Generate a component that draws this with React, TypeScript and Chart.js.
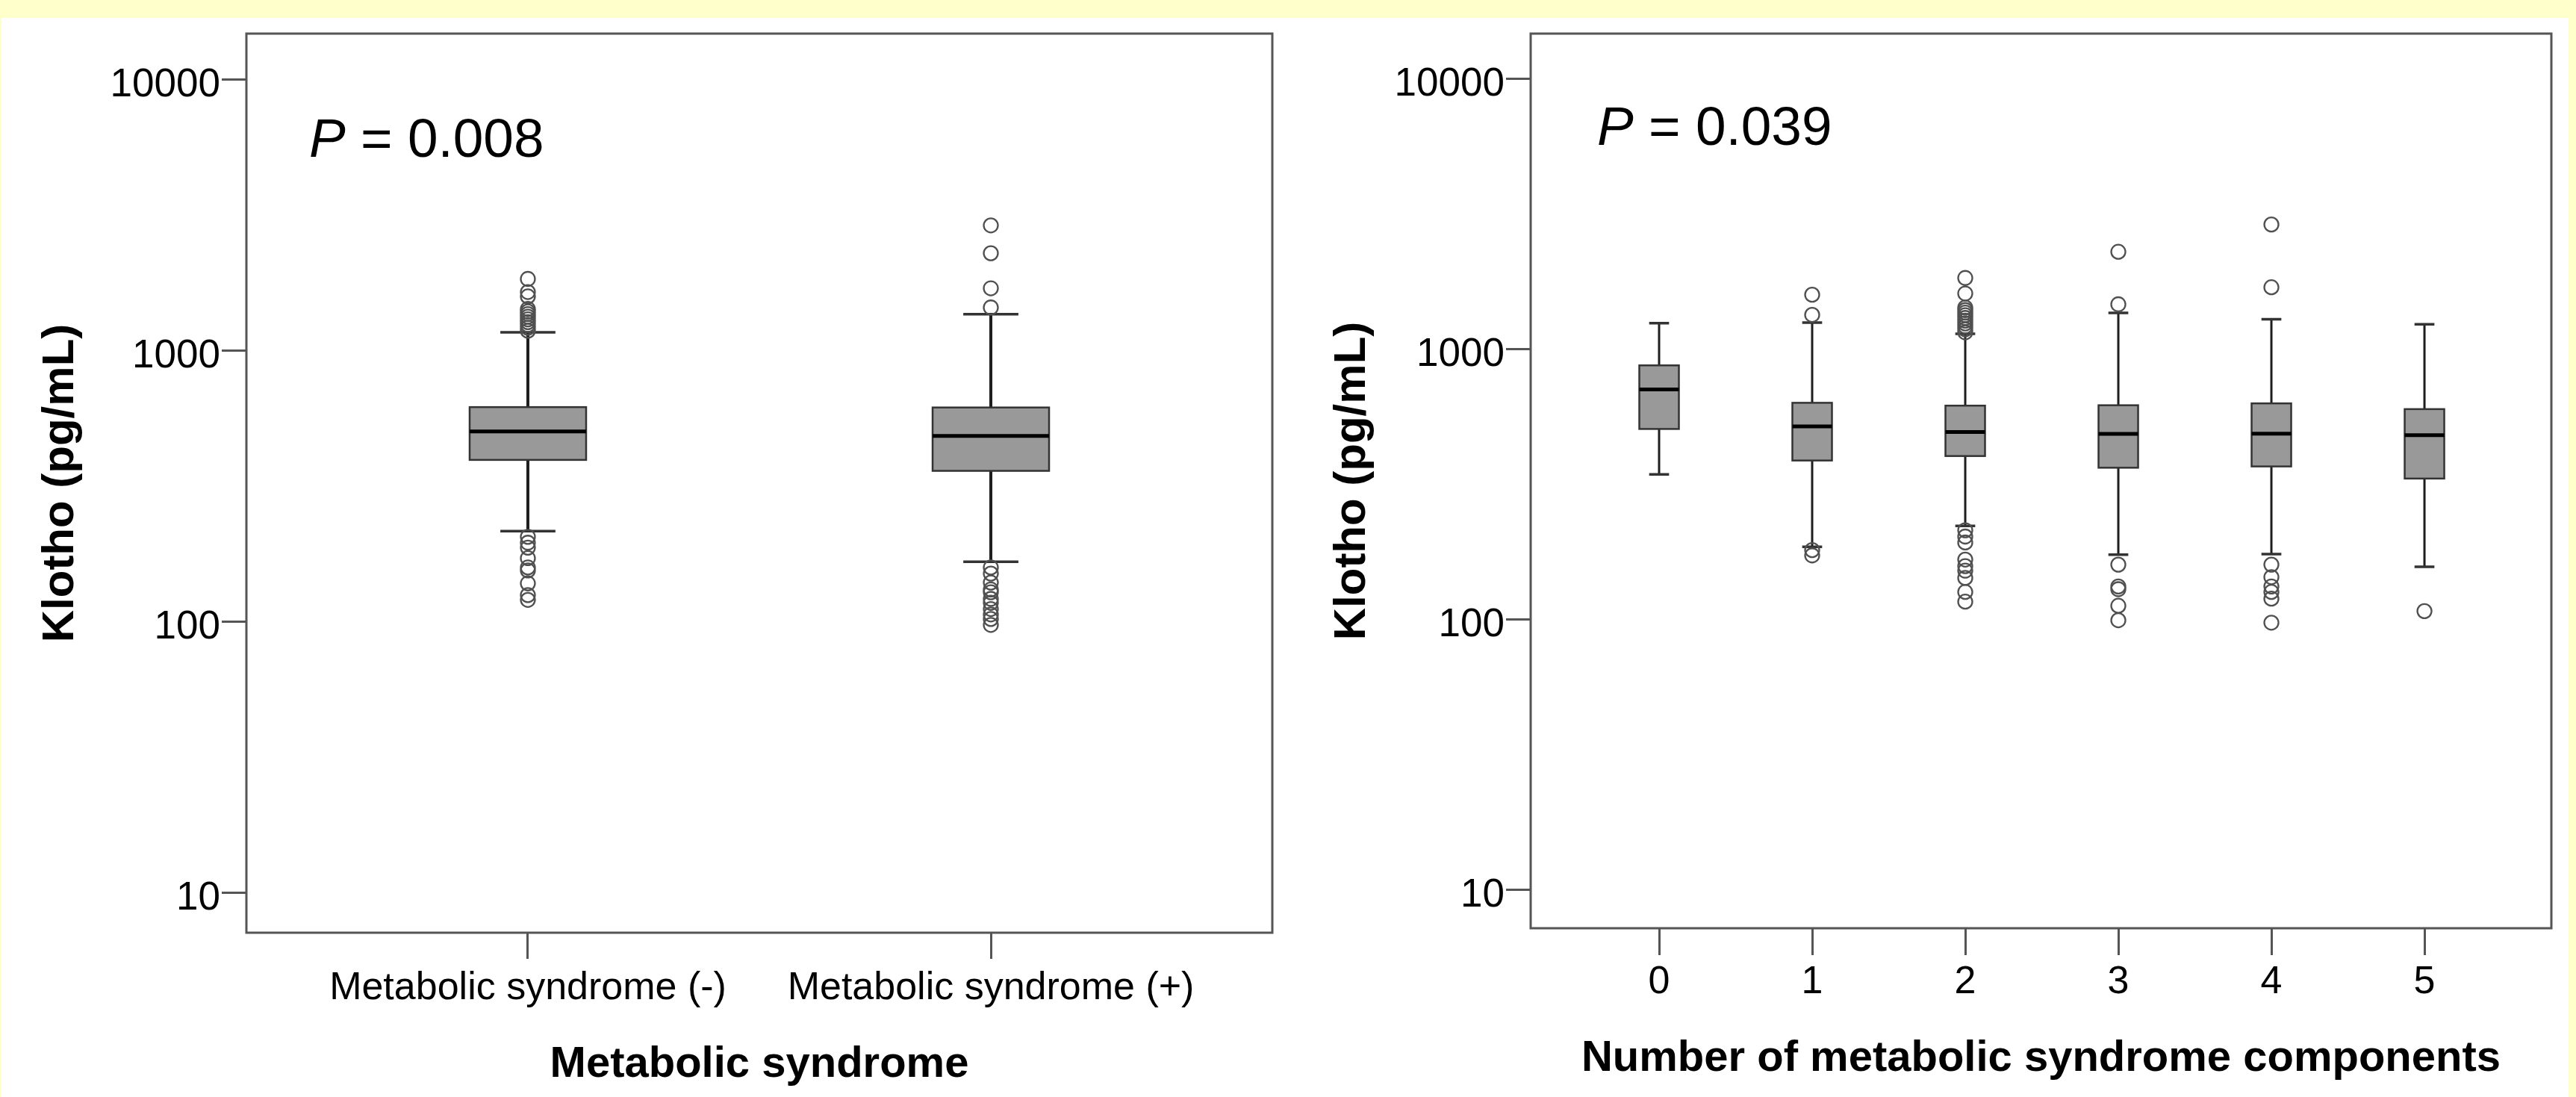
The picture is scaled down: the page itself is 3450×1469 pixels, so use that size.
import React, { useEffect, useRef } from "react";
import { Chart, registerables } from "chart.js";

Chart.register(...registerables);

const FONT = "'Liberation Sans', Arial, Helvetica, sans-serif";

// ---------- data ----------
const yTickValues = [10, 100, 1000, 10000];

// Left panel: Metabolic syndrome
const msCategories = ["Metabolic syndrome (-)", "Metabolic syndrome (+)"];
const msLow = [215, 166];
const msQ1 = [394, 359];
const msMedian = [502, 483];
const msQ3 = [617, 615];
const msHigh = [1165, 1358];
const msOutliersNeg = [1833, 1640, 1580, 1420, 1390, 1360, 1330, 1300, 1270, 1240, 1210, 1180, 205, 195, 187, 171, 158, 154, 138, 125, 120];
const msOutliersPos = [2888, 2280, 1693, 1438, 158, 150, 139, 131, 128, 121, 117, 111, 106, 102, 97];
const msPValue = "0.008";

// Right panel: Number of metabolic syndrome components
const compCategories = ["0", "1", "2", "3", "4", "5"];
const compLow = [343, 185, 221, 173, 174, 156];
const compQ1 = [505, 386, 401, 363, 367, 331];
const compMedian = [707, 516, 492, 484, 485, 479];
const compQ3 = [868, 631, 616, 618, 628, 598];
const compHigh = [1243, 1250, 1135, 1357, 1285, 1231];
const compOutliers0: number[] = [];
const compOutliers1 = [1585, 1335, 180, 172];
const compOutliers2 = [1827, 1601, 1420, 1390, 1360, 1330, 1300, 1270, 1240, 1210, 1180, 1150, 213, 202, 192, 166, 157, 151, 142, 126, 116];
const compOutliers3 = [2284, 1460, 159, 132, 129, 112, 99];
const compOutliers4 = [2882, 1688, 159, 143, 132, 126, 119, 97];
const compOutliers5 = [107];
const compPValue = "0.039";

// ---------- panel layouts (styles / geometry) ----------
const leftPanel = {
  categories: msCategories,
  stats: { low: msLow, q1: msQ1, median: msMedian, q3: msQ3, high: msHigh },
  outliers: [msOutliersNeg, msOutliersPos],
  pValue: msPValue,
  xTitle: "Metabolic syndrome",
  left: 0, top: 24, w: 1730, h: 1445,
  padRight: 26, padTop: 21, yWidth: 330, xHeight: 220,
  xMin: -0.608, xMax: 1.608, yMin: 7.1006, yMax: 14728,
  xTickLen: 35, xTickPad: 8, xTitlePadBottom: 8,
  boxWidth: 0.2516, capWidth: 0.119, whiskerWidth: 4,
  pDx: 84, pDy: 165,
};

const rightPanel = {
  categories: compCategories,
  stats: { low: compLow, q1: compQ1, median: compMedian, q3: compQ3, high: compHigh },
  outliers: [compOutliers0, compOutliers1, compOutliers2, compOutliers3, compOutliers4, compOutliers5],
  pValue: compPValue,
  xTitle: "Number of metabolic syndrome components",
  left: 1730, top: 24, w: 1710, h: 1445,
  padRight: 23, padTop: 21, yWidth: 320, xHeight: 226,
  xMin: -0.839, xMax: 5.829, yMin: 7.184, yMax: 14649,
  xTickLen: 36, xTickPad: 5, xTitlePadBottom: 16,
  boxWidth: 0.2585, capWidth: 0.13, whiskerWidth: 3,
  pDx: 89, pDy: 149,
};

type Panel = typeof leftPanel;

function makeBoxPlugin(p: Panel) {
  return {
    id: "boxplotDraw",
    beforeDatasetsDraw(chart: any) {
      const { ctx } = chart;
      const x = chart.scales.x;
      const y = chart.scales.y;
      const unit = Math.abs(x.getPixelForValue(1) - x.getPixelForValue(0));
      const bw = p.boxWidth * unit;
      const cw = p.capWidth * unit;
      ctx.save();
      p.stats.low.forEach((_: number, i: number) => {
        const cx = x.getPixelForValue(i);
        const pLo = y.getPixelForValue(p.stats.low[i]);
        const pQ1 = y.getPixelForValue(p.stats.q1[i]);
        const pMed = y.getPixelForValue(p.stats.median[i]);
        const pQ3 = y.getPixelForValue(p.stats.q3[i]);
        const pHi = y.getPixelForValue(p.stats.high[i]);
        // whiskers
        ctx.strokeStyle = "#1e1e1e";
        ctx.lineWidth = p.whiskerWidth;
        ctx.beginPath();
        ctx.moveTo(cx, pHi);
        ctx.lineTo(cx, pQ3);
        ctx.moveTo(cx, pQ1);
        ctx.lineTo(cx, pLo);
        ctx.stroke();
        // caps
        ctx.strokeStyle = "#333";
        ctx.lineWidth = 3.5;
        ctx.beginPath();
        ctx.moveTo(cx - cw / 2, pHi);
        ctx.lineTo(cx + cw / 2, pHi);
        ctx.moveTo(cx - cw / 2, pLo);
        ctx.lineTo(cx + cw / 2, pLo);
        ctx.stroke();
        // box
        ctx.fillStyle = "#999999";
        ctx.fillRect(cx - bw / 2, pQ3, bw, pQ1 - pQ3);
        ctx.strokeStyle = "#333";
        ctx.lineWidth = 2.5;
        ctx.strokeRect(cx - bw / 2, pQ3, bw, pQ1 - pQ3);
        // median
        ctx.strokeStyle = "#000";
        ctx.lineWidth = 5;
        ctx.beginPath();
        ctx.moveTo(cx - bw / 2, pMed);
        ctx.lineTo(cx + bw / 2, pMed);
        ctx.stroke();
      });
      ctx.restore();
    },
    afterDraw(chart: any) {
      const { ctx, chartArea: a } = chart;
      ctx.save();
      ctx.strokeStyle = "#555";
      ctx.lineWidth = 3;
      ctx.strokeRect(a.left, a.top, a.right - a.left, a.bottom - a.top);
      ctx.fillStyle = "#000";
      ctx.textAlign = "left";
      ctx.textBaseline = "alphabetic";
      const px = a.left + p.pDx;
      const py = a.top + p.pDy;
      ctx.font = `italic 73px ${FONT}`;
      ctx.fillText("P", px, py);
      const w = ctx.measureText("P").width;
      ctx.font = `73px ${FONT}`;
      ctx.fillText(" = " + p.pValue, px + w, py);
      ctx.restore();
    },
  };
}

function buildConfig(p: Panel): any {
  const points: { x: number; y: number }[] = [];
  p.outliers.forEach((arr, i) => arr.forEach((v) => points.push({ x: i, y: v })));
  return {
    type: "scatter",
    data: {
      datasets: [
        {
          data: points,
          pointStyle: "circle",
          pointRadius: 9.5,
          pointHoverRadius: 9.5,
          pointBorderWidth: 2.3,
          pointBorderColor: "#505050",
          pointBackgroundColor: "rgba(255,255,255,0)",
          showLine: false,
        },
      ],
    },
    options: {
      animation: false,
      responsive: false,
      maintainAspectRatio: false,
      events: [],
      layout: { padding: { left: 0, top: p.padTop, right: p.padRight, bottom: 0 } },
      plugins: { legend: { display: false }, tooltip: { enabled: false }, title: { display: false } },
      scales: {
        x: {
          type: "linear",
          position: "bottom",
          min: p.xMin,
          max: p.xMax,
          bounds: "data",
          afterBuildTicks: (s: any) => {
            s.ticks = p.categories.map((_, i) => ({ value: i }));
          },
          afterFit: (s: any) => {
            s.height = p.xHeight;
            s.paddingLeft = 0;
            s.paddingRight = 0;
            s.paddingTop = 0;
            s.paddingBottom = 0;
          },
          ticks: {
            callback: (v: number) => p.categories[Math.round(v)],
            font: { family: FONT, size: 52 },
            color: "#000",
            padding: p.xTickPad,
            maxRotation: 0,
            minRotation: 0,
            autoSkip: false,
          },
          grid: {
            drawOnChartArea: false,
            drawTicks: true,
            tickLength: p.xTickLen,
            tickWidth: 3,
            tickColor: "#555",
          },
          border: { display: false },
          title: {
            display: true,
            text: p.xTitle,
            color: "#000",
            font: { family: FONT, size: 58, weight: "bold" },
            padding: { top: 0, bottom: p.xTitlePadBottom },
          },
        },
        y: {
          type: "logarithmic",
          position: "left",
          min: p.yMin,
          max: p.yMax,
          bounds: "data",
          afterBuildTicks: (s: any) => {
            s.ticks = yTickValues.map((v) => ({ value: v }));
          },
          afterFit: (s: any) => {
            s.width = p.yWidth;
            s.paddingLeft = 0;
            s.paddingRight = 0;
            s.paddingTop = 0;
            s.paddingBottom = 0;
          },
          ticks: {
            callback: (v: number) => String(v),
            font: { family: FONT, size: 53 },
            color: "#000",
            padding: 2,
            labelOffset: 8,
            autoSkip: false,
          },
          grid: {
            drawOnChartArea: false,
            drawTicks: true,
            tickLength: 33,
            tickWidth: 3,
            tickColor: "#555",
          },
          border: { display: false },
          title: {
            display: true,
            text: "Klotho (pg/mL)",
            color: "#000",
            font: { family: FONT, size: 60, weight: "bold" },
            padding: { top: 45, bottom: 0 },
          },
        },
      },
    },
    plugins: [makeBoxPlugin(p)],
  };
}

function BoxPanel({ panel }: { panel: Panel }) {
  const ref = useRef<HTMLCanvasElement | null>(null);
  useEffect(() => {
    if (!ref.current) return;
    const chart = new Chart(ref.current, buildConfig(panel));
    return () => chart.destroy();
  }, [panel]);
  return (
    <canvas
      ref={ref}
      width={panel.w}
      height={panel.h}
      style={{
        position: "absolute",
        left: panel.left,
        top: panel.top,
        width: panel.w,
        height: panel.h,
        display: "block",
      }}
    />
  );
}

export default function App() {
  return (
    <div
      style={{
        position: "fixed",
        left: 0,
        top: 0,
        width: 3450,
        height: 1469,
        background: "#FFFFCC",
        overflow: "hidden",
      }}
    >
      <div
        style={{
          position: "absolute",
          left: 2,
          top: 24,
          width: 3438,
          height: 1445,
          background: "#FFFFFF",
        }}
      />
      <BoxPanel panel={leftPanel} />
      <BoxPanel panel={rightPanel} />
    </div>
  );
}
